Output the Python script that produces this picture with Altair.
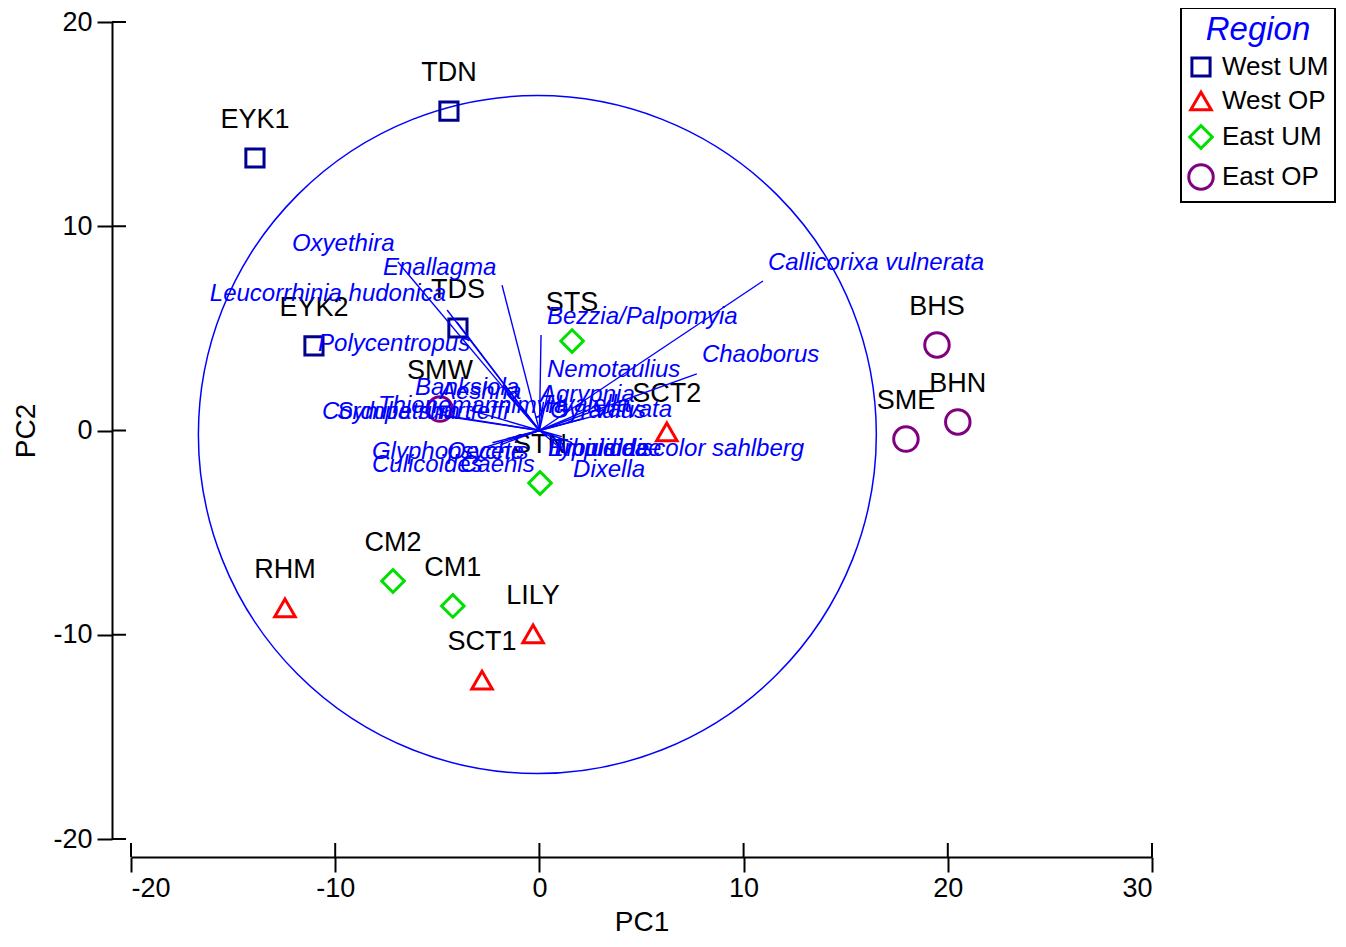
import altair as alt
import pandas as pd

FONT = "Liberation Sans"

# ---- site scores -------------------------------------------------------
site_names = ["EYK1", "TDN", "TDS", "EYK2", "RHM", "SCT2", "LILY", "SCT1", "SMW",
              "STS", "STN", "CM2", "CM1", "BHS", "BHN", "SME"]
site_pc1 = [-13.93, -4.43, -3.99, -11.04, -12.46, 6.24, -0.31, -2.81, -4.87,
            1.60, 0.03, -7.17, -4.24, 19.47, 20.49, 17.95]
site_pc2 = [13.34, 15.64, 5.02, 4.14, -8.69, -0.07, -9.96, -12.22, 1.05,
            4.38, -2.57, -7.37, -8.59, 4.19, 0.42, -0.42]
site_region = ["West UM", "West UM", "West UM", "West UM", "West OP", "West OP", "West OP", "West OP",
               "East OP", "East UM", "East UM", "East UM", "East UM", "East OP", "East OP", "East OP"]

regions = ["West UM", "West OP", "East UM", "East OP"]
region_shapes = ["square", "triangle-up", "diamond", "circle"]
region_colors = ["#00008F", "#FF0000", "#00E000", "#800080"]
region_sizes = [330, 600, 480, 480]

# ---- species vectors ---------------------------------------------------
species = ["Oxyethira", "Enallagma", "Leucorrhinia hudonica", "Polycentropus",
           "Callicorixa vulnerata", "Chaoborus", "Bezzia/Palpomyia", "Nemotaulius",
           "Agrypnia", "Banksiola", "Aeshna", "Thienemannimyia", "Sympetrum",
           "Cordulia shurtleffi", "Glyphopsyche", "Culicoides", "Oecetis", "Caenis",
           "Hyalella", "Gyraulus", "Valvata", "Empididae", "Tipulidae",
           "Ilybius discolor sahlberg", "Dixella"]
sp_end_x = [-6.93, -1.83, -4.52, -4.04, 10.95, 7.71, 0.08, 0.5, 0.2, -1.6, -1.3, -3.4, -4.6,
            -5.0, -2.3, -2.6, -1.6, -1.9, 2.6, 2.2, 3.4, 0.9, 1.1, 1.6, 1.3]
sp_end_y = [8.25, 7.12, 5.90, 5.31, 7.32, 2.77, 4.68, 2.2, 1.4, 1.8, 1.5, 1.0, 0.7,
            0.8, -0.6, -0.8, -0.4, -0.7, 1.1, 0.6, 0.9, -0.5, -0.3, -0.6, -1.1]
sp_lab_x = [-12.12, -7.66, -16.14, -10.84, 11.19, 7.96, 0.37, 0.37, 0.03, -6.09, -4.87, -7.91, -9.91,
            -10.65, -8.2, -8.2, -4.52, -3.89, 0.27, 0.52, 2.62, 0.42, 0.62, 0.42, 1.65]
sp_lab_y = [9.13, 7.96, 6.68, 4.23, 8.20, 3.70, 5.56, 2.96, 1.74, 2.08, 1.88, 1.20, 0.91,
            0.91, -1.05, -1.69, -1.05, -1.69, 1.25, 0.95, 1.0, -0.91, -0.91, -0.91, -1.93]

# ---- correlation circle ------------------------------------------------
circle_center_x = [-0.1]
circle_center_y = [-0.2]
circle_radius = 16.6

x_ticks = [-20, -10, 0, 10, 20, 30]
y_ticks = [-20, -10, 0, 10, 20]

W, H = 1021, 817
XDOM, YDOM = [-20, 30], [-20, 20]
px_per_unit = W / (XDOM[1] - XDOM[0])

sites = pd.DataFrame({"PC1": site_pc1, "PC2": site_pc2, "name": site_names, "Region": site_region})
sp = pd.DataFrame({"ox": [0.0] * len(species), "oy": [0.0] * len(species),
                   "ex": sp_end_x, "ey": sp_end_y, "lx": sp_lab_x, "ly": sp_lab_y, "name": species})
circ = pd.DataFrame({"PC1": circle_center_x, "PC2": circle_center_y})
xt = pd.DataFrame({"t": x_ticks})
yt = pd.DataFrame({"t": y_ticks})

xscale = alt.Scale(domain=XDOM, nice=False, zero=False)
yscale = alt.Scale(domain=YDOM, nice=False, zero=False)

xaxis = alt.Axis(values=x_ticks, grid=False, offset=18, tickSize=15, tickWidth=2, domainWidth=2,
                 domainColor="black", tickColor="black", labelFont=FONT, labelFontSize=27,
                 labelColor="black", labelPadding=3, labelExpr="datum.value + ''",
                 title="PC1", titleFont=FONT, titleFontSize=28,
                 titleFontWeight="normal", titleColor="black", titlePadding=7)
yaxis = alt.Axis(values=y_ticks, grid=False, offset=19, tickSize=15, tickWidth=2, domainWidth=2,
                 domainColor="black", tickColor="black", labelFont=FONT, labelFontSize=27,
                 labelColor="black", labelPadding=5, labelExpr="datum.value + ''",
                 title="PC2", titleFont=FONT, titleFontSize=28,
                 titleFontWeight="normal", titleColor="black", titlePadding=12)

legend = alt.Legend(orient="none", legendX=1050, legendY=-14, title="Region",
                    titleFont=FONT, titleFontSize=33, titleFontStyle="italic", titleFontWeight="normal",
                    titleColor="#0000FF", titleAnchor="middle", titlePadding=7,
                    labelFont=FONT, labelFontSize=26, labelColor="black", labelOffset=7,
                    strokeColor="black", fillColor="white", padding=6, rowPadding=3,
                    symbolStrokeWidth=3, offset=0)

circle = alt.Chart(circ).mark_point(shape="circle", filled=False, color="#0000FF", strokeWidth=1.5,
                                     opacity=1).encode(
    x=alt.X("PC1:Q", scale=xscale, axis=xaxis),
    y=alt.Y("PC2:Q", scale=yscale, axis=yaxis),
    size=alt.value((2 * circle_radius * px_per_unit) ** 2),
)

points = alt.Chart(sites).mark_point(filled=False, strokeWidth=3, opacity=1).encode(
    x="PC1:Q", y="PC2:Q",
    shape=alt.Shape("Region:N", scale=alt.Scale(domain=regions, range=region_shapes), legend=legend),
    color=alt.Color("Region:N", scale=alt.Scale(domain=regions, range=region_colors), legend=legend),
    size=alt.Size("Region:N", scale=alt.Scale(domain=regions, range=region_sizes), legend=legend),
)

site_labels = alt.Chart(sites).mark_text(font=FONT, fontSize=27, color="black", dy=-38,
                                         baseline="middle").encode(
    x="PC1:Q", y="PC2:Q", text="name:N")

arrows = alt.Chart(sp).mark_rule(color="#0000FF", strokeWidth=1.4).encode(
    x="ox:Q", y="oy:Q", x2="ex:Q", y2="ey:Q")

sp_labels = alt.Chart(sp).mark_text(font=FONT, fontSize=24, fontStyle="italic", color="#0000FF",
                                    align="left", baseline="middle").encode(
    x="lx:Q", y="ly:Q", text="name:N")

xin = alt.Chart(xt).mark_rule(color="black", strokeWidth=2).encode(
    x="t:Q", y=alt.value(H + 4), y2=alt.value(H + 18))
yin = alt.Chart(yt).mark_rule(color="black", strokeWidth=2).encode(
    y="t:Q", x=alt.value(-19), x2=alt.value(-5))

chart = alt.layer(circle, points, site_labels, arrows, sp_labels, xin, yin).properties(
    width=W, height=H,
    autosize=alt.AutoSizeParams(type="none"),
    padding={"left": 123, "top": 14, "right": 186, "bottom": 97},
).configure_view(stroke=None).configure_legend(strokeWidth=2)

chart.save("out.html", embed_options={"renderer": "svg", "actions": False})
